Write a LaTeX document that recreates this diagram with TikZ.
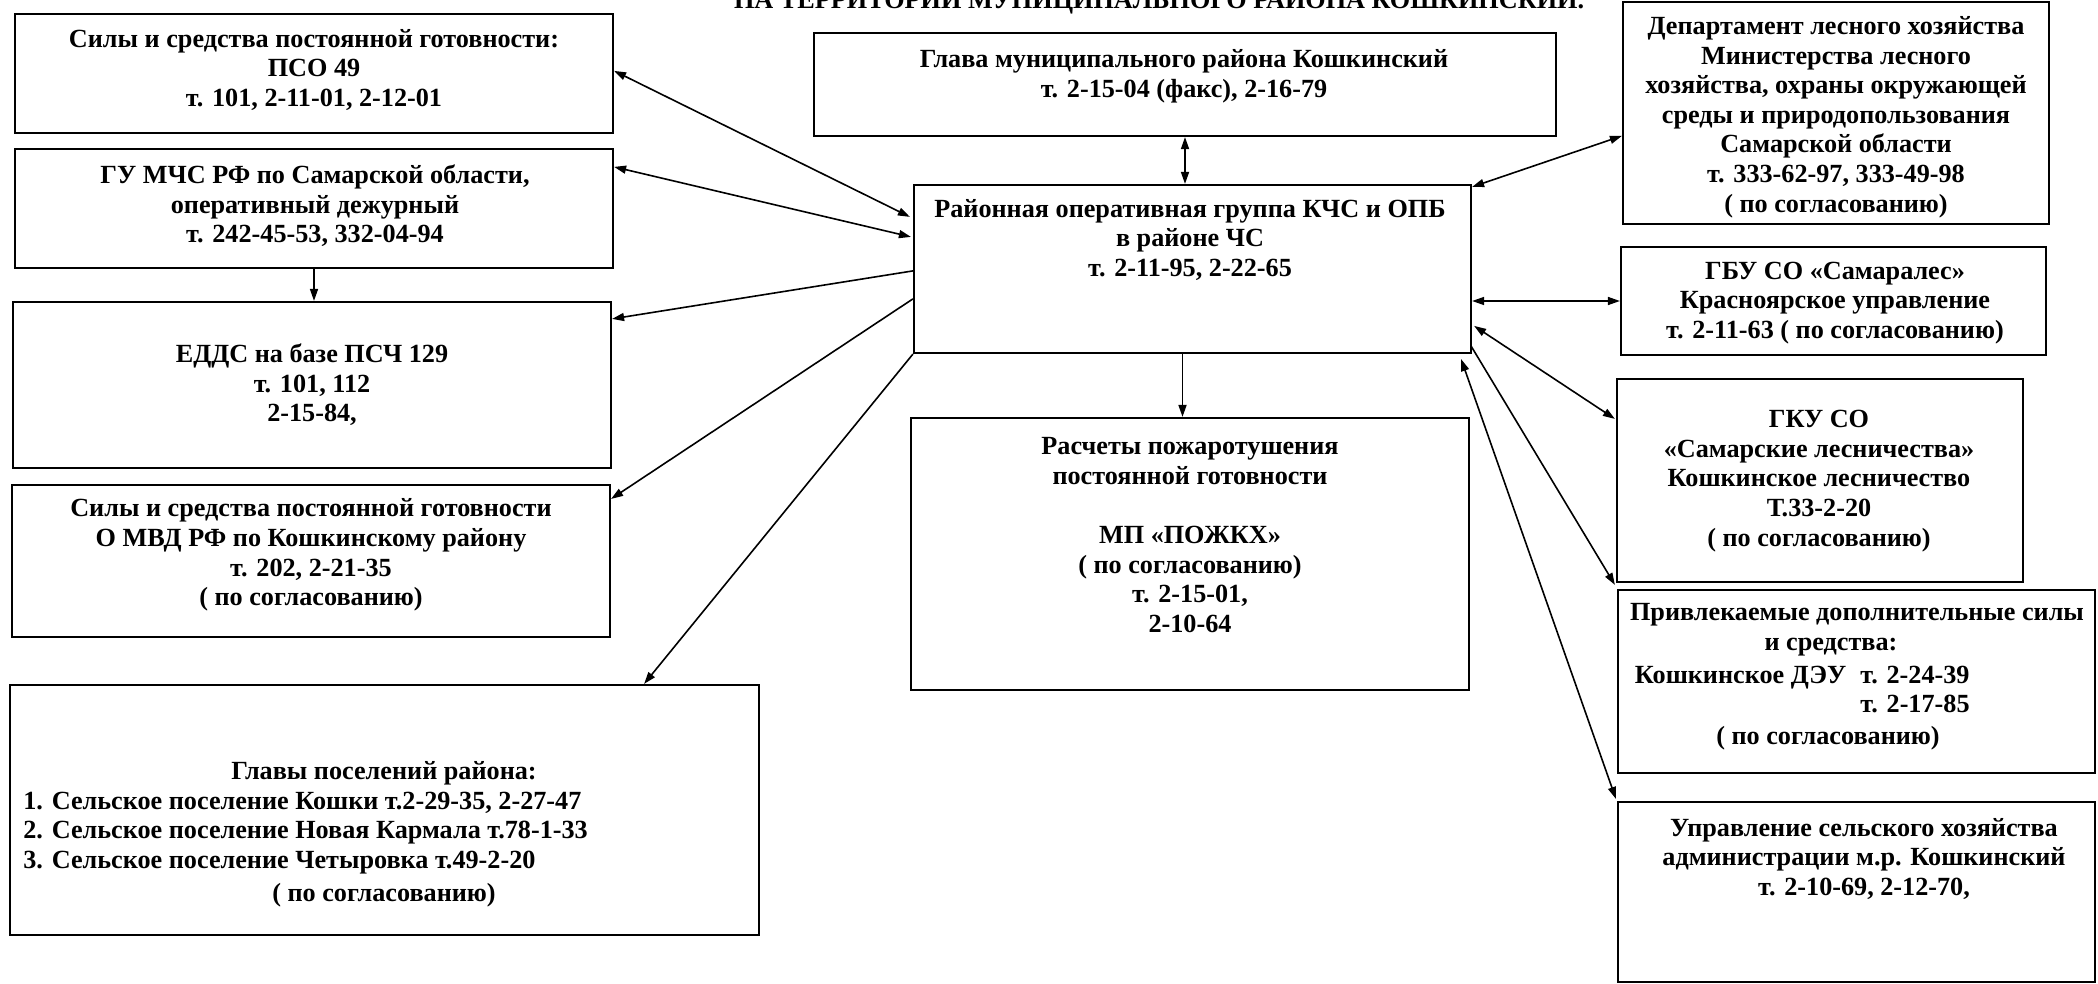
\documentclass[tikz,border=0pt]{standalone}
\usepackage{fontspec}
\setmainfont{Liberation Serif}
\usetikzlibrary{arrows.meta,fit,calc}
\newcommand\mkbox[5]{%
  \coordinate (#1-a) at (#2,#3);
  \coordinate (#1-b) at (#4,#5);
  \node[box, fit=(#1-a)(#1-b)] (#1) {};}
\begin{document}
\begin{tikzpicture}[x=0.5pt,y=-0.5pt,
  box/.style={draw, line width=1.1pt, inner sep=0pt},
  txt/.style={font=\fontsize{13.1}{14.8}\selectfont\bfseries, align=center, inner sep=0pt},
  one/.style={line width=0.8pt, -{Triangle[length=6pt,width=4pt]}},
  two/.style={line width=0.8pt, {Triangle[length=6pt,width=4pt]}-{Triangle[length=6pt,width=4pt]}}]
\useasboundingbox (0,0) rectangle (2098,984);
\clip (0,0) rectangle (2098,984);

% title (cut at the top of the page, as in the original)
\node[txt, anchor=base] (title) at (1159,9) {НА ТЕРРИТОРИИ МУНИЦИПАЛЬНОГО РАЙОНА КОШКИНСКИЙ.};

% boxes
\mkbox{b1}{15}{14}{613}{133}
\mkbox{b2}{15}{149}{613}{268}
\mkbox{b3}{13}{302}{611}{468}
\mkbox{b4}{12}{485}{610}{637}
\mkbox{b5}{10}{685}{759}{935}
\mkbox{g}{814}{33}{1556}{136}
\mkbox{c}{914}{185}{1471}{353}
\mkbox{r}{911}{418}{1469}{690}
\mkbox{d}{1623}{2}{2049}{224}
\mkbox{s}{1621}{247}{2046}{355}
\mkbox{k}{1617}{379}{2023}{582}
\mkbox{p}{1618}{590}{2095}{773}
\mkbox{u}{1618}{802}{2095}{982}

% texts
\node[txt] (b1t) at (314,70) {Силы и средства постоянной готовности:\\ ПСО 49\\ т. 101, 2-11-01, 2-12-01};
\node[txt] (b2t) at (315,206) {ГУ МЧС РФ по Самарской области,\\ оперативный дежурный\\ т. 242-45-53, 332-04-94};
\node[txt] (b3t) at (312,385) {ЕДДС на базе ПСЧ 129\\ т. 101, 112\\ 2-15-84,};
\node[txt] (b4t) at (311,555) {Силы и средства постоянной готовности\\ О МВД РФ по Кошкинскому району\\ т. 202, 2-21-35\\ ( по согласованию)};
\node[txt] (b5h) at (384,773) {Главы поселений района:};
\node[txt, align=left, anchor=west] (b5l) at (23,833) {1. Сельское поселение Кошки т.2-29-35, 2-27-47\\ 2. Сельское поселение Новая Кармала т.78-1-33\\ 3. Сельское поселение Четыровка т.49-2-20};
\node[txt] (b5s) at (384,895) {( по согласованию)};
\node[txt] (gt) at (1184,76) {Глава муниципального района Кошкинский\\ т. 2-15-04 (факс), 2-16-79};
\node[txt] (ct) at (1190,240) {Районная оперативная группа КЧС и ОПБ\\ в районе ЧС\\ т. 2-11-95, 2-22-65};
\node[txt] (rt) at (1190,535) {Расчеты пожаротушения\\ постоянной готовности\\ \mbox{}\\ МП «ПОЖКХ»\\ ( по согласованию)\\ т. 2-15-01,\\ 2-10-64};
\node[txt] (dt) at (1836,117) {Департамент лесного хозяйства\\ Министерства лесного\\ хозяйства, охраны окружающей\\ среды и природопользования\\ Самарской области\\ т. 333-62-97, 333-49-98\\ ( по согласованию)};
\node[txt] (st) at (1835,303) {ГБУ СО «Самаралес»\\ Красноярское управление\\ т. 2-11-63 ( по согласованию)};
\node[txt] (kt) at (1819,481) {ГКУ СО\\ «Самарские лесничества»\\ Кошкинское лесничество\\ Т.33-2-20\\ ( по согласованию)};
\node[txt] (pt1) at (1857,615) {Привлекаемые дополнительные силы};
\node[txt] (pt2) at (1831,647) {и средства:};
\node[txt, anchor=east] (pt3) at (1970,692) {\begin{tabular}{@{}l@{\hspace{7pt}}r@{}}Кошкинское ДЭУ & т. 2-24-39\\ & т. 2-17-85\end{tabular}};
\node[txt] (pt4) at (1828,738) {( по согласованию)};
\node[txt] (ut) at (1864,859) {Управление сельского хозяйства\\ администрации м.р. Кошкинский\\ т. 2-10-69, 2-12-70,};

% connectors
\coordinate (cr) at ($(c.south)+(-10,0)$);
\draw[two] ($(c.north west)+(-3,33)$) -- ($(b1.north east)+(0,58)$);
\draw[two] ($(c.north west)+(-2,53)$) -- ($(b2.north east)+(0,19)$);
\draw[one] (b2.south) -- (b2.south |- b3.north);
\draw[one] ($(c.north west)+(0,87)$) -- ($(b3.north east)+(0,18)$);
\draw[one] ($(c.north west)+(0,115)$) -- ($(b4.north east)+(0,15)$);
\draw[one] (c.south west) -- ($(b5.north east)+(-116,0)$);
\draw[two] (g.south) -- (g.south |- c.north);
\draw[two] ($(c.north east)+(0,3)$) -- ($(d.north west)+(0,135)$);
\draw[two] (c.east |- s.west) -- (s.west);
\draw[two] ($(c.north east)+(2,142)$) -- ($(k.north west)+(-1,41)$);
\draw[one] ($(c.south east)+(-1,-8)$) -- ($(p.north west)+(-2,-4)$);
\draw[two] ($(c.south east)+(-11,5)$) -- ($(u.north west)+(-1,-2)$);
\draw[one] (cr) -- (cr |- r.north);
\end{tikzpicture}
\end{document}
